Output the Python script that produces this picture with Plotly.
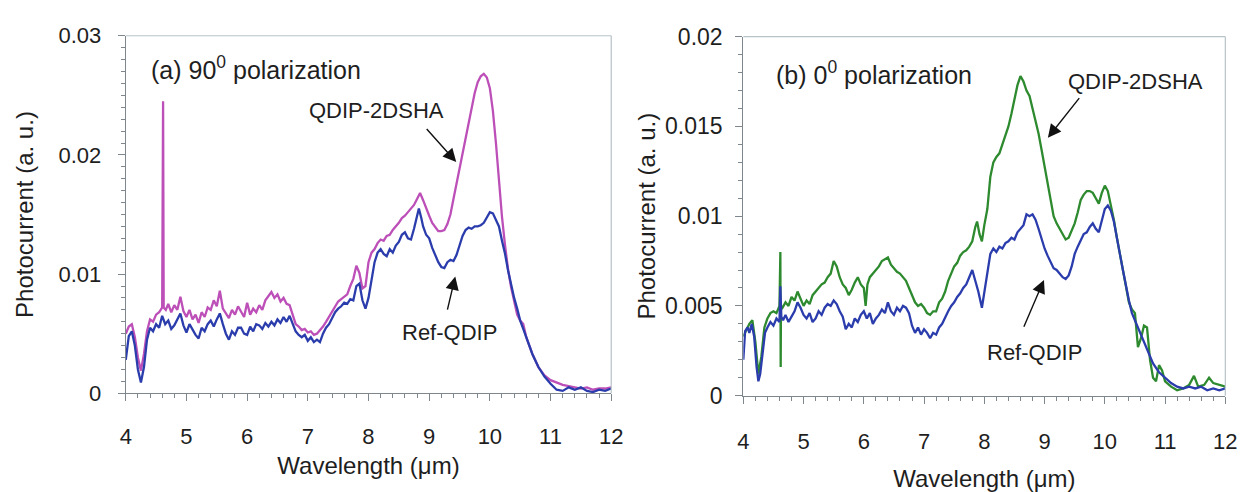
import plotly.graph_objects as go

# ---------------- data ----------------
# (a) 90 deg polarization
wl_a_q = [4.00,4.05,4.10,4.15,4.20,4.25,4.30,4.35,4.40,4.45,4.50,4.55,4.60,4.615,4.625,4.66,4.70,4.75,4.80,4.85,
          4.90,4.95,5.00,5.05,5.10,5.15,5.20,5.25,5.30,5.35,5.40,5.45,5.50,5.55,5.60,5.65,5.70,5.75,5.80,5.85,
          5.90,5.95,6.00,6.05,6.10,6.15,6.20,6.25,6.30,6.35,6.40,6.45,6.50,6.55,6.60,6.65,6.70,6.75,6.80,6.85,
          6.90,6.95,7.00,7.05,7.10,7.15,7.20,7.25,7.30,7.35,7.40,7.45,7.50,7.55,7.60,7.65,7.70,7.75,7.80,7.85,
          7.90,7.95,8.00,8.05,8.10,8.15,8.20,8.25,8.30,8.35,8.40,8.45,8.50,8.55,8.60,8.65,8.70,8.75,8.80,8.85,
          8.90,8.95,9.00,9.05,9.10,9.15,9.20,9.25,9.30,9.35,9.40,9.45,9.50,9.55,9.60,9.65,9.70,9.75,9.80,9.85,
          9.90,9.95,10.00,10.05,10.10,10.15,10.20,10.25,10.30,10.35,10.40,10.45,10.50,10.55,10.60,10.70,10.80,10.90,11.00,11.10,
          11.20,11.30,11.40,11.50,11.60,11.70,11.80,11.90,12.00]
pc_a_q = [0.0050,0.0056,0.0058,0.0047,0.0030,0.0019,0.0033,0.0052,0.0062,0.0060,0.0066,0.0068,0.0072,0.0245,0.0072,0.0070,0.0075,0.0068,0.0074,0.0070,
          0.0081,0.0069,0.0064,0.0070,0.0062,0.0066,0.0059,0.0068,0.0064,0.0072,0.0070,0.0078,0.0073,0.0086,0.0071,0.0067,0.0063,0.0070,0.0066,0.0073,
          0.0068,0.0064,0.0076,0.0066,0.0071,0.0068,0.0074,0.0070,0.0078,0.0082,0.0085,0.0080,0.0083,0.0077,0.0080,0.0075,0.0074,0.0066,0.0058,0.0056,
          0.0053,0.0054,0.0051,0.0052,0.0049,0.0050,0.0053,0.0056,0.0060,0.0064,0.0068,0.0073,0.0077,0.0079,0.0081,0.0083,0.0090,0.0096,0.0107,0.0101,
          0.0088,0.0090,0.0110,0.0118,0.0121,0.0126,0.0129,0.0128,0.0132,0.0133,0.0137,0.0140,0.0143,0.0147,0.0149,0.0152,0.0155,0.0158,0.0163,0.0168,
          0.0162,0.0155,0.0149,0.0143,0.0139,0.0136,0.0136,0.0137,0.0142,0.0150,0.0163,0.0176,0.0190,0.0202,0.0215,0.0228,0.0240,0.0252,0.0261,0.0266,
          0.0268,0.0265,0.0256,0.0237,0.0210,0.0178,0.0148,0.0124,0.0104,0.0089,0.0078,0.0066,0.0061,0.0058,0.0047,0.0033,0.0022,0.0015,0.0011,0.0009,
          0.0007,0.0006,0.0005,0.0004,0.0005,0.0003,0.0004,0.0004,0.0005]

wl_a_r = [4.00,4.05,4.10,4.15,4.20,4.25,4.30,4.35,4.40,4.45,4.50,4.55,4.60,4.65,4.70,4.75,4.80,4.85,4.90,4.95,
          5.00,5.05,5.10,5.15,5.20,5.25,5.30,5.35,5.40,5.45,5.50,5.55,5.60,5.65,5.70,5.75,5.80,5.85,5.90,5.95,
          6.00,6.05,6.10,6.15,6.20,6.25,6.30,6.35,6.40,6.45,6.50,6.55,6.60,6.65,6.70,6.75,6.80,6.85,6.90,6.95,
          7.00,7.05,7.10,7.15,7.20,7.25,7.30,7.35,7.40,7.45,7.50,7.55,7.60,7.65,7.70,7.75,7.80,7.85,7.90,7.95,
          8.00,8.05,8.10,8.15,8.20,8.25,8.30,8.35,8.40,8.45,8.50,8.55,8.60,8.65,8.70,8.75,8.80,8.83,8.87,8.90,
          8.95,9.00,9.05,9.10,9.15,9.20,9.25,9.30,9.35,9.40,9.45,9.50,9.55,9.60,9.65,9.70,9.75,9.80,9.85,9.90,
          9.95,10.00,10.05,10.10,10.15,10.20,10.25,10.30,10.35,10.40,10.45,10.50,10.55,10.60,10.70,10.80,10.90,11.00,11.10,11.20,
          11.30,11.40,11.50,11.60,11.70,11.80,11.90,12.00]
pc_a_r = [0.0028,0.0048,0.0052,0.0040,0.0020,0.0009,0.0022,0.0045,0.0055,0.0052,0.0058,0.0055,0.0065,0.0058,0.0061,0.0054,0.0057,0.0062,0.0067,0.0057,
          0.0051,0.0058,0.0053,0.0049,0.0046,0.0055,0.0052,0.0058,0.0061,0.0056,0.0062,0.0067,0.0058,0.0050,0.0045,0.0052,0.0049,0.0055,0.0055,0.0050,
          0.0049,0.0056,0.0052,0.0058,0.0057,0.0054,0.0059,0.0056,0.0060,0.0057,0.0062,0.0059,0.0064,0.0060,0.0065,0.0058,0.0052,0.0049,0.0047,0.0049,
          0.0044,0.0047,0.0043,0.0045,0.0043,0.0050,0.0055,0.0058,0.0063,0.0068,0.0071,0.0073,0.0076,0.0075,0.0079,0.0078,0.0090,0.0092,0.0078,0.0071,
          0.0080,0.0094,0.0110,0.0118,0.0121,0.0117,0.0115,0.0121,0.0118,0.0124,0.0127,0.0133,0.0135,0.0130,0.0129,0.0138,0.0150,0.0155,0.0147,0.0140,
          0.0133,0.0130,0.0122,0.0116,0.0110,0.0106,0.0105,0.0110,0.0112,0.0111,0.0116,0.0124,0.0132,0.0137,0.0139,0.0138,0.0140,0.0140,0.0141,0.0143,
          0.0148,0.0152,0.0151,0.0146,0.0140,0.0128,0.0117,0.0103,0.0090,0.0080,0.0071,0.0061,0.0054,0.0047,0.0033,0.0022,0.0014,0.0008,0.0003,0.0002,
          0.0005,0.0003,0.0005,0.0002,0.0001,0.0003,0.0002,0.0004]

# (b) 0 deg polarization
wl_b_q = [4.00,4.05,4.10,4.15,4.20,4.25,4.30,4.35,4.40,4.45,4.50,4.55,4.60,4.615,4.620,4.625,4.65,4.70,4.75,4.80,
          4.85,4.90,4.95,5.00,5.05,5.10,5.15,5.20,5.25,5.30,5.35,5.40,5.45,5.50,5.55,5.60,5.65,5.70,5.75,5.80,
          5.85,5.90,5.95,6.00,6.03,6.06,6.10,6.15,6.20,6.25,6.30,6.35,6.40,6.45,6.50,6.55,6.60,6.65,6.70,6.75,
          6.80,6.85,6.90,6.95,7.00,7.05,7.10,7.15,7.20,7.25,7.30,7.35,7.40,7.45,7.50,7.55,7.60,7.65,7.70,7.75,
          7.80,7.85,7.88,7.92,7.96,8.00,8.05,8.10,8.15,8.20,8.25,8.30,8.35,8.40,8.45,8.50,8.55,8.60,8.65,8.70,
          8.75,8.80,8.85,8.90,8.95,9.00,9.05,9.10,9.15,9.20,9.25,9.30,9.35,9.40,9.45,9.50,9.55,9.60,9.65,9.70,
          9.75,9.80,9.85,9.90,9.95,10.00,10.05,10.10,10.15,10.20,10.25,10.30,10.35,10.40,10.45,10.50,10.55,10.60,10.65,10.70,
          10.75,10.80,10.85,10.90,10.95,11.00,11.10,11.20,11.30,11.40,11.48,11.55,11.65,11.73,11.80,11.90,12.00]
pc_b_q = [0.0033,0.0037,0.0040,0.0042,0.0030,0.0012,0.0022,0.0038,0.0043,0.0046,0.0047,0.0046,0.0050,0.0080,0.0016,0.0050,0.0049,0.0052,0.0050,0.0055,
          0.0053,0.0058,0.0054,0.0050,0.0053,0.0051,0.0056,0.0058,0.0060,0.0062,0.0063,0.0066,0.0068,0.0075,0.0072,0.0066,0.0062,0.0060,0.0056,0.0059,
          0.0063,0.0066,0.0062,0.0060,0.0050,0.0062,0.0066,0.0068,0.0070,0.0072,0.0075,0.0076,0.0077,0.0073,0.0071,0.0069,0.0068,0.0066,0.0064,0.0060,
          0.0056,0.0052,0.0050,0.0051,0.0049,0.0046,0.0045,0.0047,0.0047,0.0052,0.0054,0.0058,0.0064,0.0068,0.0072,0.0074,0.0078,0.0080,0.0081,0.0083,
          0.0086,0.0094,0.0097,0.0090,0.0086,0.0095,0.0104,0.0122,0.0130,0.0133,0.0135,0.0140,0.0145,0.0150,0.0157,0.0165,0.0173,0.0178,0.0175,0.0170,
          0.0167,0.0160,0.0153,0.0146,0.0137,0.0128,0.0118,0.0108,0.0100,0.0096,0.0093,0.0090,0.0087,0.0088,0.0092,0.0096,0.0102,0.0109,0.0112,0.0114,
          0.0114,0.0113,0.0110,0.0107,0.0113,0.0117,0.0114,0.0106,0.0098,0.0088,0.0079,0.0071,0.0062,0.0052,0.0048,0.0046,0.0027,0.0032,0.0039,0.0038,
          0.0020,0.0010,0.0008,0.0017,0.0014,0.0008,0.0005,0.0003,0.0004,0.0006,0.0011,0.0005,0.0006,0.0010,0.0007,0.0006,0.0005]

wl_b_r = [4.00,4.03,4.07,4.10,4.14,4.18,4.22,4.25,4.28,4.32,4.36,4.40,4.45,4.50,4.55,4.60,4.615,4.63,4.66,4.70,
          4.75,4.80,4.85,4.90,4.95,5.00,5.05,5.10,5.15,5.20,5.25,5.30,5.35,5.40,5.45,5.50,5.55,5.60,5.65,5.70,
          5.75,5.80,5.85,5.90,5.95,6.00,6.05,6.10,6.15,6.20,6.25,6.30,6.35,6.40,6.45,6.50,6.55,6.60,6.65,6.70,
          6.75,6.80,6.85,6.90,6.95,7.00,7.05,7.10,7.15,7.20,7.25,7.30,7.35,7.40,7.45,7.50,7.55,7.60,7.65,7.70,
          7.75,7.80,7.85,7.90,7.96,8.00,8.05,8.10,8.15,8.20,8.25,8.30,8.35,8.40,8.45,8.50,8.55,8.60,8.65,8.70,
          8.75,8.80,8.85,8.90,8.95,9.00,9.05,9.10,9.15,9.20,9.25,9.30,9.35,9.40,9.45,9.50,9.55,9.60,9.65,9.70,
          9.75,9.80,9.85,9.90,9.95,10.00,10.05,10.10,10.15,10.20,10.25,10.30,10.35,10.40,10.45,10.50,10.55,10.60,10.70,10.80,
          10.90,11.00,11.10,11.20,11.30,11.40,11.50,11.60,11.70,11.80,11.90,12.00]
pc_b_r = [0.0020,0.0036,0.0038,0.0035,0.0040,0.0033,0.0016,0.0008,0.0012,0.0022,0.0035,0.0038,0.0041,0.0039,0.0043,0.0041,0.0061,0.0044,0.0042,0.0045,
          0.0041,0.0044,0.0047,0.0052,0.0049,0.0045,0.0043,0.0046,0.0041,0.0043,0.0047,0.0045,0.0049,0.0051,0.0050,0.0053,0.0051,0.0047,0.0044,0.0037,
          0.0040,0.0038,0.0043,0.0041,0.0045,0.0047,0.0043,0.0046,0.0040,0.0043,0.0045,0.0048,0.0046,0.0052,0.0047,0.0045,0.0049,0.0047,0.0050,0.0049,
          0.0046,0.0039,0.0035,0.0038,0.0034,0.0037,0.0035,0.0032,0.0035,0.0034,0.0038,0.0040,0.0044,0.0047,0.0050,0.0052,0.0055,0.0057,0.0060,0.0062,
          0.0066,0.0070,0.0064,0.0058,0.0049,0.0058,0.0068,0.0079,0.0082,0.0080,0.0083,0.0082,0.0085,0.0086,0.0088,0.0087,0.0091,0.0093,0.0095,0.0101,
          0.0100,0.0101,0.0098,0.0093,0.0087,0.0082,0.0078,0.0074,0.0071,0.0070,0.0068,0.0066,0.0065,0.0067,0.0072,0.0079,0.0083,0.0087,0.0090,0.0091,
          0.0094,0.0096,0.0093,0.0091,0.0098,0.0104,0.0106,0.0103,0.0097,0.0089,0.0079,0.0070,0.0061,0.0053,0.0046,0.0042,0.0037,0.0033,0.0026,0.0018,
          0.0013,0.0010,0.0007,0.0005,0.0004,0.0005,0.0004,0.0005,0.0003,0.0004,0.0003,0.0004]

x_ticks = [4, 5, 6, 7, 8, 9, 10, 11, 12]
y_ticks_a = [0, 0.01, 0.02, 0.03]
y_labels_a = ["0", "0.01", "0.02", "0.03"]
y_ticks_b = [0, 0.005, 0.01, 0.015, 0.02]
y_labels_b = ["0", "0.005", "0.01", "0.015", "0.02"]

MAGENTA = "#bd4fb8"
BLUE = "#2b3dac"
GREEN = "#2e8a2e"
FONT = "Liberation Sans, Arial, sans-serif"
AX = "#7d878d"
TXT = "#1e1e1e"
W, H = 1260, 492

fig = go.Figure()
fig.add_trace(go.Scatter(x=wl_a_q, y=pc_a_q, mode="lines", line=dict(color=MAGENTA, width=2.3), xaxis="x", yaxis="y"))
fig.add_trace(go.Scatter(x=wl_a_r, y=pc_a_r, mode="lines", line=dict(color=BLUE, width=2.3), xaxis="x", yaxis="y"))
fig.add_trace(go.Scatter(x=wl_b_q, y=pc_b_q, mode="lines", line=dict(color=GREEN, width=2.3), xaxis="x2", yaxis="y2"))
fig.add_trace(go.Scatter(x=wl_b_r, y=pc_b_r, mode="lines", line=dict(color=BLUE, width=2.3), xaxis="x2", yaxis="y2"))

def xax(domain, anchor, lab_off, title_off):
    return dict(domain=domain, anchor=anchor, range=[4, 12], tickvals=x_ticks,
                showline=True, linecolor=AX, linewidth=1.2, mirror=False,
                ticks="outside", ticklen=7, tickcolor=AX, tickwidth=1,
                minor=dict(dtick=0.2, ticks="outside", ticklen=4, tickcolor=AX),
                showgrid=False, zeroline=False, ticklabelstandoff=lab_off,
                tickfont=dict(family=FONT, size=22, color=TXT),
                title=dict(text="Wavelength (\u03bcm)", font=dict(family=FONT, size=24, color=TXT), standoff=title_off))

def yax(domain, anchor, tv, tt, mdt, lab_off, title_off, fsize):
    return dict(domain=domain, anchor=anchor, range=[0, tv[-1]], tickvals=tv, ticktext=tt,
                showline=True, linecolor=AX, linewidth=1.2, mirror=False,
                ticks="outside", ticklen=7, tickcolor=AX, tickwidth=1,
                minor=dict(dtick=mdt, ticks="outside", ticklen=4, tickcolor=AX),
                showgrid=False, zeroline=False, ticklabelstandoff=lab_off,
                tickfont=dict(family=FONT, size=fsize, color=TXT),
                title=dict(text="Photocurrent (a. u.)", font=dict(family=FONT, size=24, color=TXT), standoff=title_off))

xa_dom = [121.5 / W, 614 / W]
ya_dom = [(H - 401.5) / H, (H - 24) / H]
xb_dom = [748 / W, 1237 / W]
yb_dom = [(H - 404) / H, (H - 25) / H]

fig.update_layout(
    width=W, height=H, margin=dict(l=0, r=0, t=0, b=0),
    paper_bgcolor="white", plot_bgcolor="white", showlegend=False,
    xaxis=xax(xa_dom, "y", 16, 9), yaxis=yax(ya_dom, "x", y_ticks_a, y_labels_a, 0.001, 12, 18, 22),
    xaxis2=xax(xb_dom, "y2", 19, 18), yaxis2=yax(yb_dom, "x2", y_ticks_b, y_labels_b, 0.001, 8, 2, 23),
)

# light frame on top/right
LIGHT = "#b7c3c8"
for xd, yd in [(xa_dom, ya_dom), (xb_dom, yb_dom)]:
    fig.add_shape(type="line", xref="paper", yref="paper", x0=xd[0], x1=xd[1], y0=yd[1], y1=yd[1],
                  line=dict(color=LIGHT, width=1.2))
    fig.add_shape(type="line", xref="paper", yref="paper", x0=xd[1], x1=xd[1], y0=yd[0], y1=yd[1],
                  line=dict(color=LIGHT, width=1.2))

def txt(px, py, s, xanchor="center", size=22):
    fig.add_annotation(x=px / W, y=1 - py / H, xref="paper", yref="paper", text=s, showarrow=False,
                       xanchor=xanchor, yanchor="middle", font=dict(family=FONT, size=size, color=TXT))

txt(145, 58, "(a) 90<sup>0</sup> polarization", xanchor="left", size=25)
txt(376, 103, "QDIP-2DSHA")
txt(450, 337, "Ref-QDIP")
txt(779, 63, "(b) 0<sup>0</sup> polarization", xanchor="left", size=25)
txt(1146, 72, "QDIP-2DSHA")
txt(1043, 358, "Ref-QDIP")

def arrow(xr, yr, tip, tail):
    fig.add_annotation(x=tip[0], y=tip[1], ax=tail[0], ay=tail[1], xref=xr, yref=yr, axref=xr, ayref=yr,
                       text="", showarrow=True, arrowhead=2, arrowsize=1.9, arrowwidth=1.4, arrowcolor="#111")

arrow("x", "y", (9.446, 0.0194), (8.937, 0.0223))
arrow("x", "y", (9.430, 0.0098), (9.295, 0.0069))
arrow("x2", "y2", (9.055, 0.01437), (9.595, 0.01666))
arrow("x2", "y2", (8.990, 0.00645), (8.646, 0.00375))

fig.write_html("out.html")
